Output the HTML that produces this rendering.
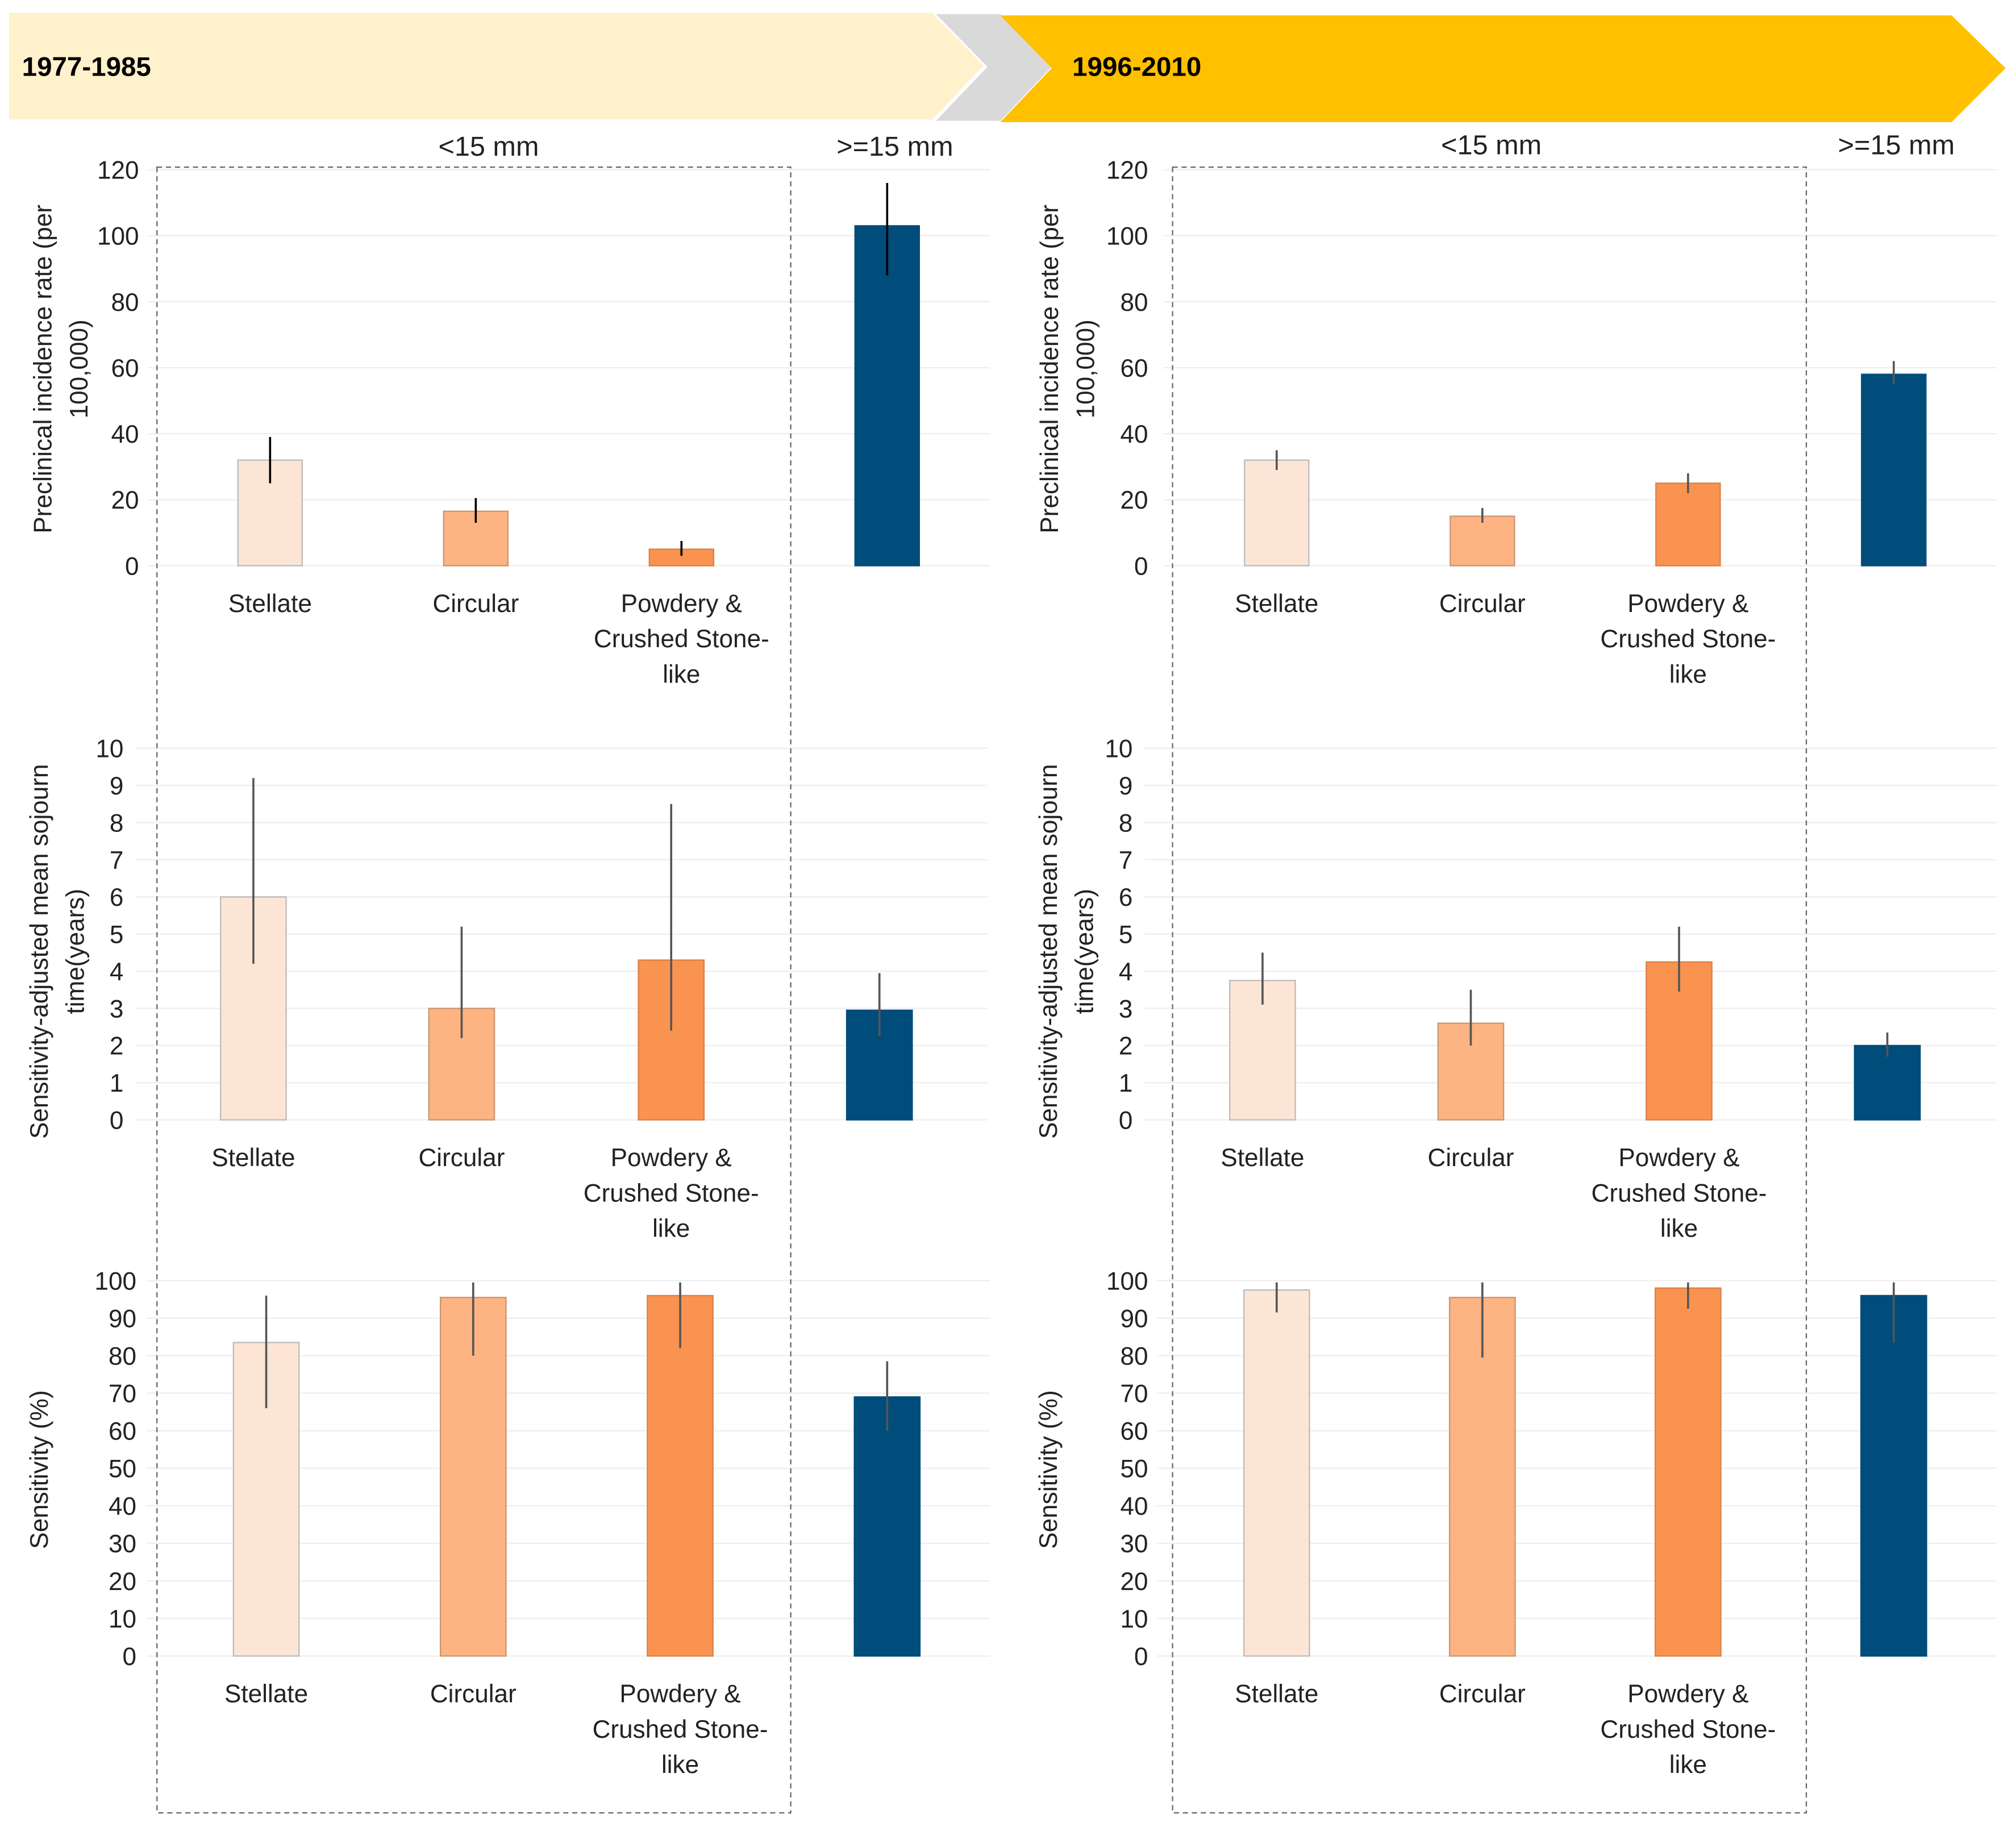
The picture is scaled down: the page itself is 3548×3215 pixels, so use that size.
<!DOCTYPE html>
<html><head><meta charset="utf-8"><style>
html,body{margin:0;padding:0;background:#fff;}
svg{display:block;font-family:"Liberation Sans",sans-serif;}
</style></head><body>
<svg id="fig" width="3548" height="3215" viewBox="0 0 1568 1421" xmlns="http://www.w3.org/2000/svg">
<g>
<polygon points="7,10 725,10 765,51 725,93 7,93" fill="#FEF1CC"/>
<polygon points="728,11 778,11 818,52 778,94 728,94 768,52" fill="#D9D9D9"/>
<polygon points="778,12 1518,12 1560,53 1518,95 778,95 818,53" fill="#FFC000"/>
<text x="17" y="59" font-size="21" font-weight="bold">1977-1985</text>
<text x="834" y="59" font-size="21" font-weight="bold">1996-2010</text>
</g>
<g font-size="21.5" fill="#222" text-anchor="middle">
<text x="380" y="121">&lt;15 mm</text>
<text x="696" y="121">&gt;=15 mm</text>
<text x="1160" y="120">&lt;15 mm</text>
<text x="1475" y="120">&gt;=15 mm</text>
</g>
<g id="charts"></g>
<rect x="122" y="130" width="493" height="1280" fill="none" stroke="#666" stroke-width="1" stroke-dasharray="4,3"/>
<rect x="912" y="130" width="493" height="1280" fill="none" stroke="#666" stroke-width="1" stroke-dasharray="4,3"/>
</svg>
<script>
const categories = ["Stellate", "Circular", "Powdery & Crushed Stone-like", ">=15 mm"];
const incidence1977 = [32, 16.5, 5, 103];
const incidence1977Lo = [25, 13, 3, 88];
const incidence1977Hi = [39, 20.5, 7.5, 116];
const incidence1996 = [32, 15, 25, 58];
const incidence1996Lo = [29, 13, 22, 55];
const incidence1996Hi = [35, 17.5, 28, 62];
const sojourn1977 = [6, 3, 4.3, 2.95];
const sojourn1977Lo = [4.2, 2.2, 2.4, 2.25];
const sojourn1977Hi = [9.2, 5.2, 8.5, 3.95];
const sojourn1996 = [3.75, 2.6, 4.25, 2.0];
const sojourn1996Lo = [3.1, 2.0, 3.45, 1.7];
const sojourn1996Hi = [4.5, 3.5, 5.2, 2.35];
const sens1977 = [83.5, 95.5, 96, 69];
const sens1977Lo = [66, 80, 82, 60];
const sens1977Hi = [96, 99.5, 99.5, 78.5];
const sens1996 = [97.5, 95.5, 98, 96];
const sens1996Lo = [91.5, 79.5, 92.5, 83.5];
const sens1996Hi = [99.5, 99.5, 99.5, 99.5];
const incidenceTicks = [0, 20, 40, 60, 80, 100, 120];
const sojournTicks = [0,1,2,3,4,5,6,7,8,9,10];
const sensTicks = [0,10,20,30,40,50,60,70,80,90,100];

const NS = "http://www.w3.org/2000/svg";
const root = document.getElementById("charts");
const fills = ["#FDE5D6", "#FDB382", "#FB9350", "#004C7A"];
const strokes = ["#bbb", "#c89670", "#d9804a", "#004C7A"];
function mk(tag, attrs, parent) {
  const e = document.createElementNS(NS, tag);
  for (const k in attrs) e.setAttribute(k, attrs[k]);
  parent.appendChild(e);
  return e;
}
function chart(cfg) {
  const g = mk("g", {}, root);
  
  
  const max = cfg.ticks[cfg.ticks.length - 1];
  const y = v => cfg.y0 - (v / max) * (cfg.y0 - cfg.yTop);
  cfg.ticks.forEach(t => {
    const l = mk("line", {x1: cfg.gx0, x2: cfg.gx1, y1: y(t), y2: y(t), stroke: "#eeeeee", "stroke-width": 1}, g);
    
    
    const tx = mk("text", {x: cfg.tickX, y: y(t) + 7, "font-size": 19.5, "text-anchor": "end", fill: "#222"}, g);
    tx.textContent = t;
    
    
  });
  cfg.vals.forEach((v, i) => {
    const cx = cfg.centers[i];
    const r = mk("rect", {x: cx - cfg.bw / 2, y: y(v), width: cfg.bw, height: y(0) - y(v), fill: fills[i], stroke: strokes[i], "stroke-width": 1}, g);
    
    
    const e = mk("line", {x1: cx, x2: cx, y1: y(cfg.lo[i]), y2: y(cfg.hi[i]), stroke: cfg.errColor, "stroke-width": 1.6}, g);
    
    
    if (i < 3) {
      const lines = i === 2 ? ["Powdery &", "Crushed Stone-", "like"] : [categories[i]];
      lines.forEach((s, k) => {
        const t = mk("text", {x: cx, y: cfg.y0 + 36 + k * 27.5, "font-size": 19.5, "text-anchor": "middle", fill: "#222"}, g);
        t.textContent = s;
        
        
      });
    }
  });
  cfg.title.forEach((s, k) => {
    const tx = cfg.titleX + k * 28, ty = cfg.titleY;
    const t = mk("text", {x: tx, y: ty, "font-size": 19.5, "text-anchor": "middle", fill: "#222", transform: `rotate(-90 ${tx} ${ty})`}, g);
    t.textContent = s;
    
    
  });
}
const L = [210, 370, 530, 690], R = [993, 1153, 1313, 1473];
chart({name: "incidence-1977-1985", vals: incidence1977, lo: incidence1977Lo, hi: incidence1977Hi, ticks: incidenceTicks, y0: 440, yTop: 132, centers: L, bw: 50, gx0: 115, gx1: 770, tickX: 108, errColor: "#000", title: ["Preclinical incidence rate (per", "100,000)"], titleX: 40, titleY: 287});
chart({name: "incidence-1996-2010", vals: incidence1996, lo: incidence1996Lo, hi: incidence1996Hi, ticks: incidenceTicks, y0: 440, yTop: 132, centers: R, bw: 50, gx0: 905, gx1: 1553, tickX: 893, errColor: "#555", title: ["Preclinical incidence rate (per", "100,000)"], titleX: 823, titleY: 287});
chart({name: "sojourn-1977-1985", vals: sojourn1977, lo: sojourn1977Lo, hi: sojourn1977Hi, ticks: sojournTicks, y0: 871, yTop: 582, centers: [197, 359, 522, 684], bw: 51, gx0: 105, gx1: 768, tickX: 96, errColor: "#555", title: ["Sensitivity-adjusted mean sojourn", "time(years)"], titleX: 37, titleY: 740});
chart({name: "sojourn-1996-2010", vals: sojourn1996, lo: sojourn1996Lo, hi: sojourn1996Hi, ticks: sojournTicks, y0: 871, yTop: 582, centers: [982, 1144, 1306, 1468], bw: 51, gx0: 890, gx1: 1553, tickX: 881, errColor: "#555", title: ["Sensitivity-adjusted mean sojourn", "time(years)"], titleX: 822, titleY: 740});
chart({name: "sensitivity-1977-1985", vals: sens1977, lo: sens1977Lo, hi: sens1977Hi, ticks: sensTicks, y0: 1288, yTop: 996, centers: [207, 368, 529, 690], bw: 51, gx0: 114, gx1: 770, tickX: 106, errColor: "#555", title: ["Sensitivity (%)"], titleX: 37, titleY: 1143});
chart({name: "sensitivity-1996-2010", vals: sens1996, lo: sens1996Lo, hi: sens1996Hi, ticks: sensTicks, y0: 1288, yTop: 996, centers: R, bw: 51, gx0: 900, gx1: 1553, tickX: 893, errColor: "#555", title: ["Sensitivity (%)"], titleX: 822, titleY: 1143});
</script>
</body></html>
